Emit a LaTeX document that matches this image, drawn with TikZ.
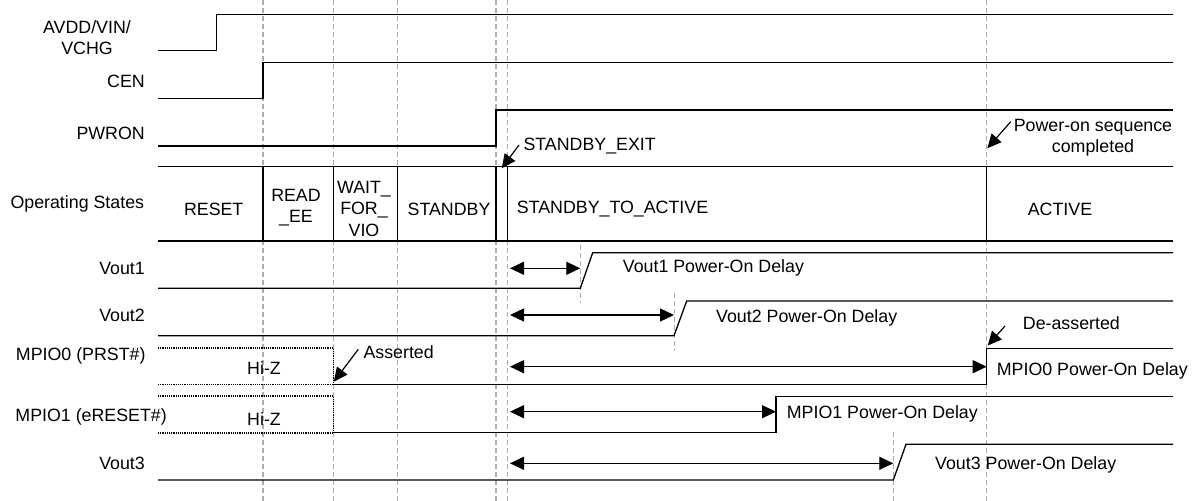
\documentclass[tikz,border=0pt]{standalone}
\usepackage{fontspec}
\setmainfont{Liberation Sans}
\usetikzlibrary{arrows.meta}
\begin{document}
\begin{tikzpicture}[x=1pt,y=-1pt,
  >={Triangle[length=14pt 0 0,width=13pt 0]},
  sig/.style={line width=1.3pt, black},
  hiz/.style={line width=1.6pt, black, dash pattern=on 1.2pt off 1pt},
  guide/.style={line width=1.2pt, gray!65, dash pattern=on 5pt off 3pt},
  lbl/.style={font=\fontsize{17.8}{21.5}\selectfont, inner sep=0pt},
  dim/.style={line width=1.3pt, <->},
  pointer/.style={line width=1.2pt, ->},
]
\useasboundingbox (0,0) rectangle (1203,501);

% guide lines
\foreach \gx in {263,333.3,397.7,496,507.7,986.7}
  \draw[guide] (\gx,0) -- (\gx,501);
\draw[guide] (580.7,245) -- (580.7,303.3);
\draw[guide] (674.7,292.7) -- (674.7,350.7);
\draw[guide] (893.3,431.7) -- (893.3,501);

% signal labels
\node[lbl, align=center] (lavdd) at (87,37.5) {AVDD/VIN/\\VCHG};
\node[lbl, anchor=east] (lcen) at (145,81.7) {CEN};
\node[lbl, anchor=east] (lpwron) at (145,133) {PWRON};
\node[lbl, anchor=east] (lstates) at (144.3,204) {Operating States};
\node[lbl, anchor=east] (lvout1) at (145,268.3) {Vout1};
\node[lbl, anchor=east] (lvout2) at (145,315) {Vout2};
\node[lbl, anchor=east] (lmpio0) at (145.7,356) {MPIO0 (PRST\#)};
\node[lbl, anchor=east] (lmpio1) at (167,416.7) {MPIO1 (eRESET\#)};
\node[lbl, anchor=east] (lvout3) at (145,463.3) {Vout3};

% waveforms
\draw[sig] (158,50.7) -- (216.7,50.7) -- (216.7,14.7) -- (1173,14.7);
\draw[sig] (158,98.3) -- (263,98.3) -- (263,62.7) -- (1173,62.7);
\draw[sig] (158,146) -- (496,146) -- (496,110) -- (1173,110);

% operating states band
\draw[sig] (158,166.7) -- (1173,166.7);
\draw[sig] (158,241) -- (1173,241);
\foreach \gx in {263,333.3,397.7,496,507.7,986.7}
  \draw[sig] (\gx,166.7) -- (\gx,241);
\node[lbl] (sreset) at (213.7,209) {RESET};
\node[lbl, align=center] (sread) at (296,207.6) {READ\\\_EE};
\node[lbl, align=center] (swait) at (364,208.5) {WAIT\_\\FOR\_\\VIO};
\node[lbl] (sstandby) at (449,209.3) {STANDBY};
\node[lbl, anchor=west] (sexit) at (516.7,209.3) {STANDBY\_TO\_ACTIVE};
\node[lbl] (sactive) at (1060,209.3) {ACTIVE};

% Vout1
\draw[sig] (158,288.3) -- (580.3,288.3) -- (592.7,252.7) -- (1173,252.7);
% Vout2
\draw[sig] (158,335.7) -- (674,335.7) -- (686.7,301) -- (1173,301);
% MPIO0
\draw[hiz] (158,348) -- (333.3,348) -- (333.3,384.3);
\draw[hiz] (158,384.3) -- (333.3,384.3);
\draw[sig] (333.3,384.3) -- (986.7,384.3) -- (986.7,348.3) -- (1173,348.3);
% MPIO1
\draw[hiz] (158,396) -- (333.3,396) -- (333.3,432.7);
\draw[hiz] (158,432.7) -- (333.3,432.7);
\draw[sig] (333.3,432.7) -- (776,432.7) -- (776,396.7) -- (1173,396.7);
% Vout3
\draw[sig] (158,480) -- (893.3,480) -- (906,444.3) -- (1173,444.3);

\node[lbl] (hiz0) at (264,368.3) {Hi-Z};
\node[lbl] (hiz1) at (264,419) {Hi-Z};

% delay arrows
\coordinate (d1a) at (510,268.3); \coordinate (d1b) at (580.3,268.3);
\coordinate (d2a) at (510,315);   \coordinate (d2b) at (674,315);
\coordinate (d3a) at (510,366.7); \coordinate (d3b) at (986.7,366.7);
\coordinate (d4a) at (510,411.7); \coordinate (d4b) at (776,411.7);
\coordinate (d5a) at (510,463.3); \coordinate (d5b) at (893.3,463.3);
\draw[dim] (d1a) -- (d1b);
\draw[dim] (d2a) -- (d2b);
\draw[dim] (d3a) -- (d3b);
\draw[dim] (d4a) -- (d4b);
\draw[dim] (d5a) -- (d5b);

\node[lbl, anchor=west] (t1) at (622.7,268) {Vout1 Power-On Delay};
\node[lbl, anchor=west] (t2) at (716,318) {Vout2 Power-On Delay};
\node[lbl, anchor=west] (t3) at (996.7,370.7) {MPIO0 Power-On Delay};
\node[lbl, anchor=west] (t4) at (786.7,414) {MPIO1 Power-On Delay};
\node[lbl, anchor=west] (t5) at (935,465) {Vout3 Power-On Delay};

% annotations
\node[lbl, anchor=west] (nexit) at (523.3,145.7) {STANDBY\_EXIT};
\coordinate (pexitA) at (519,145); \coordinate (pexitB) at (501.7,168.3);
\draw[pointer] (pexitA) -- (pexitB);

\node[lbl, align=center] (ndone) at (1093,137.5) {Power-on sequence\\completed};
\coordinate (pdoneA) at (1010.7,121.7); \coordinate (pdoneB) at (987.3,148.3);
\draw[pointer] (pdoneA) -- (pdoneB);

\node[lbl, anchor=west] (nass) at (363.3,351.7) {Asserted};
\coordinate (passA) at (358.3,349.3); \coordinate (passB) at (333.8,381.7);
\draw[pointer] (passA) -- (passB);

\node[lbl, anchor=west] (ndeass) at (1022.7,323) {De-asserted};
\coordinate (pdeA) at (1005,326); \coordinate (pdeB) at (987.7,345.5);
\draw[pointer] (pdeA) -- (pdeB);
\end{tikzpicture}
\end{document}
